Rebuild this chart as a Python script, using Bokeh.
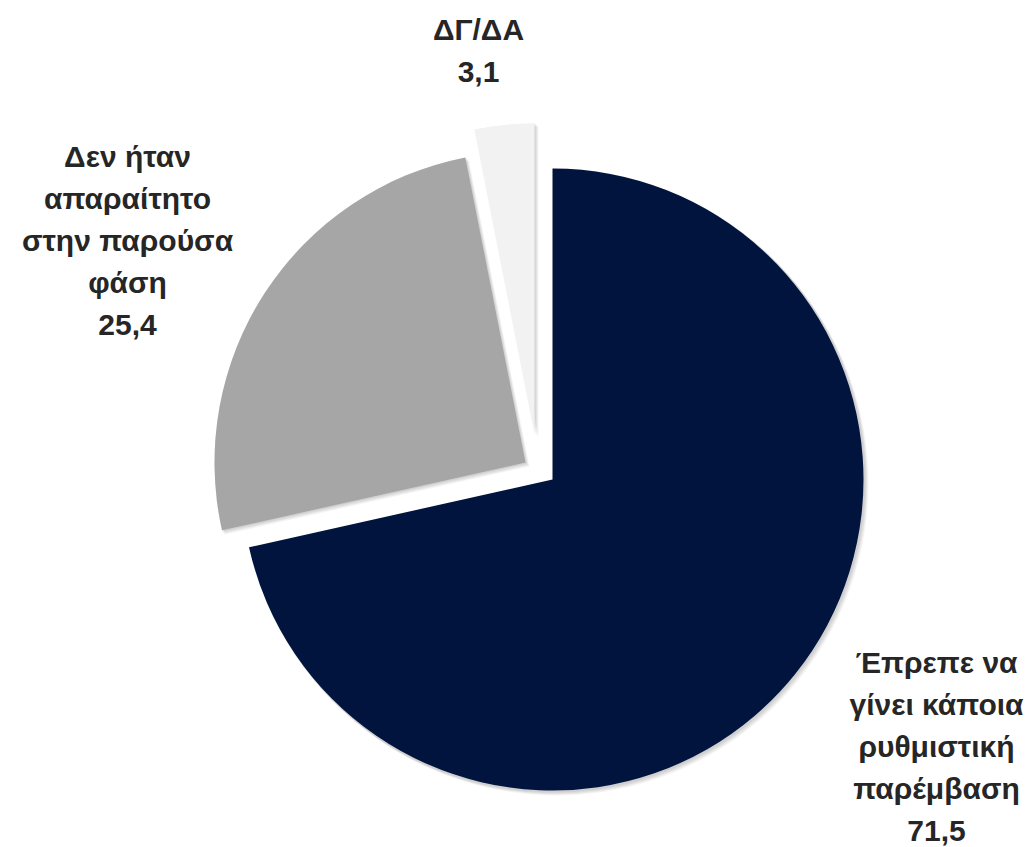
import math
from bokeh.plotting import figure
from bokeh.models import ColumnDataSource
from bokeh.core.properties import value
from bokeh.embed import file_html
from bokeh.resources import INLINE

# ---- data ----
categories = ["Έπρεπε να\nγίνει κάποια\nρυθμιστική\nπαρέμβαση",
              "Δεν ήταν\nαπαραίτητο\nστην παρούσα\nφάση",
              "ΔΓ/ΔΑ"]
values = [71.5, 25.4, 3.1]
value_labels = ["71,5", "25,4", "3,1"]

# ---- style ----
colors = ["#00143E", "#A6A6A6", "#F2F2F2"]
explode_dx = [0, -27, -18]
explode_dy = [0, 17, 45]
label_x = [936, 127, 478]          # label block centre x (px)
label_base = [662, 156, 29]        # first line anchor from top (px)
line_h = 42
W, H = 1030, 847
cx, cy, R = 552, 368, 311
FONT = value("'Liberation Sans', Arial, sans-serif")

p = figure(width=W, height=H, x_range=(0, W), y_range=(0, H),
           output_backend="svg", toolbar_location=None, min_border=0)
p.axis.visible = False
p.grid.visible = False
p.outline_line_color = None
p.background_fill_color = "white"

total = sum(values)
starts, ends, xs, ys = [], [], [], []
acc = 0.0
for i, v in enumerate(values):
    a = acc / total
    b = (acc + v) / total
    acc += v
    starts.append(math.radians(90 - 360 * b))
    ends.append(math.radians(90 - 360 * a))
    xs.append(cx + explode_dx[i])
    ys.append(cy + explode_dy[i])

# soft shadows
for k, (sx, sy, al) in enumerate([(1, -1, 0.05), (2, -2, 0.05), (3, -3, 0.05), (4, -4, 0.04)]):
    sh = ColumnDataSource(dict(x=[x + sx for x in xs], y=[y + sy for y in ys],
                               s=starts, e=ends))
    p.wedge(x="x", y="y", radius=R + 1, start_angle="s", end_angle="e",
            source=sh, fill_color="black", fill_alpha=al, line_color=None)

src = ColumnDataSource(dict(x=xs, y=ys, s=starts, e=ends, c=colors))
p.wedge(x="x", y="y", radius=R, start_angle="s", end_angle="e", source=src,
        fill_color="c", line_color=None)

# labels
tx, ty, tt = [], [], []
for i, cat in enumerate(categories):
    lines = cat.split("\n") + [value_labels[i]]
    for j, ln in enumerate(lines):
        tx.append(label_x[i])
        ty.append(H - (label_base[i] + j * line_h))
        tt.append(ln)
p.text(x="x", y="y", text="t", source=ColumnDataSource(dict(x=tx, y=ty, t=tt)),
       text_font=FONT, text_font_style="bold", text_font_size="30px",
       text_color="#262626", text_align="center", text_baseline="alphabetic")

open("out.html", "w").write(file_html(p, INLINE))
